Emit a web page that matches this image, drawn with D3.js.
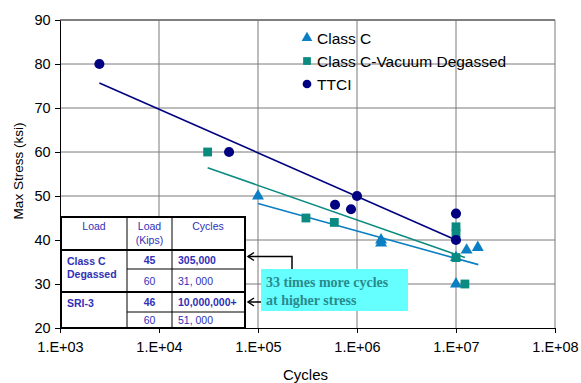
<!DOCTYPE html>
<html>
<head>
<meta charset="utf-8">
<script src="https://cdn.jsdelivr.net/npm/d3@7"></script>
<style>
  body { margin: 0; background: #fff; }
  svg { font-family: "Liberation Sans", Arial, sans-serif; }
</style>
</head>
<body>
<div id="chart"></div>
<script>
// data
var classCCycles = [1e5, 1.75e6, 1.75e6, 1e7, 1e7, 1.28e7, 1.66e7];
var classCStress = [50, 39.3, 40, 36, 30, 37.7, 38.3];
var vacuumCycles = [3.1e4, 3.05e5, 5.9e5, 1e7, 1e7, 1e7, 1.23e7];
var vacuumStress = [60, 45, 44, 43, 41.5, 36, 30];
var ttciCycles = [2.5e3, 5.1e4, 6e5, 8.7e5, 1e6, 1e7, 1e7];
var ttciStress = [80, 60, 48, 47, 50, 46, 40];

// trend line end points
var classCTrendCycles = [1e5, 1.68e7];
var classCTrendStress = [48.3, 34.4];
var vacuumTrendCycles = [3.1e4, 1.23e7];
var vacuumTrendStress = [56.4, 36];
var ttciTrendCycles = [2.5e3, 1e7];
var ttciTrendStress = [75.7, 40];

var xTicks = [1e3, 1e4, 1e5, 1e6, 1e7, 1e8];
var yTicks = [20, 30, 40, 50, 60, 70, 80, 90];

var seriesNames = ["Class C", "Class C-Vacuum Degassed", "TTCI"];
var seriesColors = ["#0a7fc4", "#0a8a80", "#000080"];

var tableHeader = [["Load"], ["Load", "(Kips)"], ["Cycles"]];
var tableGroups = ["Class C|Degassed", "SRI-3"];
var tableLoads = ["45", "60", "46", "60"];
var tableCycles = ["305,000", "31, 000", "10,000,000+", "51, 000"];
var noteLines = ["33 times more cycles", "at higher stress"];

var svgWidth = 581, svgHeight = 383;
var margin = { top: 20, right: 26, bottom: 55, left: 60 };
var width = svgWidth - margin.left - margin.right;
var height = svgHeight - margin.top - margin.bottom;

var svg = d3.select("#chart").append("svg")
    .attr("width", svgWidth)
    .attr("height", svgHeight);

var g = svg.append("g")
    .attr("transform", `translate(${margin.left},${margin.top})`);

var x = d3.scaleLog().domain([1e3, 1e8]).range([0, width]);
var y = d3.scaleLinear().domain([20, 90]).range([height, 0]);

// gridlines
g.append("g").selectAll("line").data(yTicks.slice(1)).enter().append("line")
    .attr("x1", 0).attr("x2", width)
    .attr("y1", d => y(d)).attr("y2", d => y(d))
    .attr("stroke", d => d == 90 ? "#000" : "#7a7a7a").attr("stroke-width", 1);
g.append("g").selectAll("line").data(xTicks.slice(1)).enter().append("line")
    .attr("x1", d => x(d)).attr("x2", d => x(d))
    .attr("y1", 0).attr("y2", height)
    .attr("stroke", "#7a7a7a").attr("stroke-width", 1);

// axes
var fmt = d => "1.E+" + d3.format("02d")(Math.round(Math.log10(d)));
var xAxis = g.append("g")
    .attr("transform", `translate(0,${height})`)
    .call(d3.axisBottom(x).tickValues(xTicks).tickFormat(fmt).tickSize(5).tickSizeOuter(0));
var yAxis = g.append("g")
    .call(d3.axisLeft(y).tickValues(yTicks).tickSize(5).tickSizeOuter(0));
[xAxis, yAxis].forEach(a => {
    a.attr("font-family", null);
    a.select(".domain").attr("stroke", "#000");
    a.selectAll("text").attr("fill", "#000").style("font-size", "14.5px");
});
xAxis.selectAll("text").attr("dy", "1.1em");
yAxis.selectAll("text").attr("dx", "-0.1em");

svg.append("text")
    .attr("x", margin.left + width / 2 - 2).attr("y", 380)
    .attr("text-anchor", "middle").style("font-size", "15px")
    .text("Cycles");
svg.append("text")
    .attr("transform", `translate(23,${margin.top + 151}) rotate(-90)`)
    .attr("text-anchor", "middle").style("font-size", "13.5px")
    .text("Max Stress (ksi)");

// trend lines
var trends = [
    [classCTrendCycles, classCTrendStress],
    [vacuumTrendCycles, vacuumTrendStress],
    [ttciTrendCycles, ttciTrendStress]
];
trends.forEach((t, i) => {
    g.append("line")
        .attr("x1", x(t[0][0])).attr("y1", y(t[1][0]))
        .attr("x2", x(t[0][1])).attr("y2", y(t[1][1]))
        .attr("stroke", seriesColors[i]).attr("stroke-width", 1.6);
});

// markers
var symbols = [d3.symbolTriangle, d3.symbolSquare, d3.symbolCircle];
var sizes = [62, 78, 80];
var series = [
    [classCCycles, classCStress],
    [vacuumCycles, vacuumStress],
    [ttciCycles, ttciStress]
];
series.forEach((s, i) => {
    g.append("g").selectAll("path")
        .data(d3.range(s[0].length)).enter().append("path")
        .attr("d", d3.symbol().type(symbols[i]).size(sizes[i]))
        .attr("transform", j => `translate(${x(s[0][j])},${y(s[1][j])})`)
        .attr("fill", seriesColors[i]);
});

// legend
var legend = svg.append("g").attr("transform", "translate(307,38)");
seriesNames.forEach((n, i) => {
    legend.append("path")
        .attr("d", d3.symbol().type(symbols[i]).size([50, 60, 60][i]))
        .attr("transform", `translate(0,${i * 23})`)
        .attr("fill", seriesColors[i]);
    legend.append("text")
        .attr("x", 10).attr("y", i * 23 + 5.5)
        .style("font-size", "15.5px")
        .text(n);
});

// table
var tx = 61, ty = 217, tw = 184, th = 111;
var colX = [tx, 127, 172, tx + tw];
var rowY = [ty, 250, 269, 292, 312, ty + th];
var tblColor = "#3030b8";
var tbl = svg.append("g");
tbl.append("rect").attr("x", tx).attr("y", ty).attr("width", tw).attr("height", th)
    .attr("fill", "#fff").attr("stroke", "#000").attr("stroke-width", 2);
[1, 2].forEach(c => tbl.append("line")
    .attr("x1", colX[c]).attr("x2", colX[c]).attr("y1", ty).attr("y2", ty + th)
    .attr("stroke", "#000").attr("stroke-width", 1));
[1, 3].forEach(r => tbl.append("line")
    .attr("x1", tx).attr("x2", tx + tw).attr("y1", rowY[r]).attr("y2", rowY[r])
    .attr("stroke", "#000").attr("stroke-width", 2));
[2, 4].forEach(r => tbl.append("line")
    .attr("x1", colX[1]).attr("x2", tx + tw).attr("y1", rowY[r]).attr("y2", rowY[r])
    .attr("stroke", "#000").attr("stroke-width", 1));

tableHeader.forEach((lines, c) => {
    var cx = c == 2 ? 208 : (colX[c] + colX[c + 1]) / 2;
    lines.forEach((l, k) => tbl.append("text")
        .attr("x", cx).attr("y", 230 + k * 14)
        .attr("text-anchor", "middle").style("font-size", "10.5px").attr("fill", tblColor)
        .text(l));
});
tableGroups.forEach((gname, k) => {
    gname.split("|").forEach((l, m) => tbl.append("text")
        .attr("x", 67).attr("y", rowY[1 + k * 2] + 15 + m * 13)
        .style("font-size", "10.5px").attr("font-weight", "bold").attr("fill", tblColor)
        .text(l));
});
tableLoads.forEach((v, r) => {
    var yy = (rowY[r + 1] + rowY[r + 2]) / 2 + 4;
    tbl.append("text")
        .attr("x", (colX[1] + colX[2]) / 2).attr("y", yy)
        .attr("text-anchor", "middle").style("font-size", "10.5px")
        .attr("font-weight", r % 2 == 0 ? "bold" : "normal").attr("fill", tblColor)
        .text(v);
    tbl.append("text")
        .attr("x", 178).attr("y", yy)
        .style("font-size", "10.5px")
        .attr("font-weight", r % 2 == 0 ? "bold" : "normal").attr("fill", tblColor)
        .text(tableCycles[r]);
});

// note box and arrows
svg.append("rect").attr("x", 261).attr("y", 269).attr("width", 147).attr("height", 42)
    .attr("fill", "#66ffff");
noteLines.forEach((l, k) => svg.append("text")
    .attr("x", 266).attr("y", 287 + k * 18)
    .style("font-family", "'Liberation Serif', 'Times New Roman', serif")
    .style("font-size", "14px").attr("font-weight", "bold").attr("fill", "#2a8a8c")
    .text(l));

var arrows = svg.append("g").attr("stroke", "#000").attr("stroke-width", 1.5).attr("fill", "none");
arrows.append("path").attr("d", "M292,269 V256.5 H248");
arrows.append("path").attr("d", "M261,302 H248");
[256.5, 302].forEach(yy => arrows.append("path")
    .attr("d", `M254,${yy - 4} L248,${yy} L254,${yy + 4}`));
</script>
</body>
</html>
